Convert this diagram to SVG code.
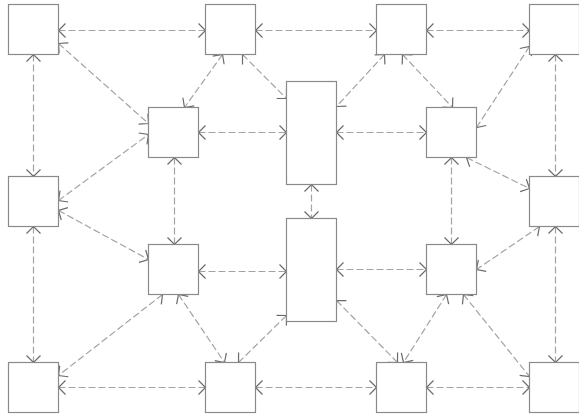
<svg xmlns="http://www.w3.org/2000/svg" width="579" height="416" viewBox="0 0 579 416">
<style>
.node rect{fill:#fff;stroke:#8a8a8a;stroke-width:1.2}
.edges path{fill:none;stroke:#a3a3a3;stroke-width:1.2;stroke-dasharray:7 3;marker-start:url(#arr);marker-end:url(#arr)}
</style>
<defs>
<marker id="arr" markerUnits="userSpaceOnUse" viewBox="-9 -9 10 18" refX="0" refY="0" markerWidth="10" markerHeight="18" orient="auto-start-reverse" overflow="visible">
<path d="M-7,-7 L0,0 L-7,7" fill="none" stroke="#6a6a6a" stroke-width="1.2" stroke-dasharray="none"/>
</marker>
</defs>
<rect width="579" height="416" fill="#fff"/>
<g class="edges" id="connectors">
<path d="M58.5,30.5 L205.5,30.5"/>
<path d="M255.5,30.5 L376.5,30.5"/>
<path d="M426.5,30.5 L529.5,30.5"/>
<path d="M33.5,54.5 L33.5,176.5"/>
<path d="M33.5,226.5 L33.5,362.5"/>
<path d="M555.5,54.5 L555.5,176.5"/>
<path d="M555.5,226.5 L555.5,362.5"/>
<path d="M58.5,387.5 L205.5,387.5"/>
<path d="M255.5,387.5 L376.5,387.5"/>
<path d="M426.5,387.5 L529.5,387.5"/>
<path d="M198.5,132.5 L286.5,132.5"/>
<path d="M336.5,132.5 L426.5,132.5"/>
<path d="M198.5,271.5 L286.5,271.5"/>
<path d="M336.5,269.5 L426.5,269.5"/>
<path d="M311.5,184.5 L311.5,218.5"/>
<path d="M174.5,157.5 L174.5,244.5"/>
<path d="M451.5,157.5 L451.5,244.5"/>
<path d="M58.5,43.5 L148.5,123.5"/>
<path d="M222.5,54.5 L184.5,107.5"/>
<path d="M242.5,54.5 L286.5,98.5"/>
<path d="M384.5,54.5 L336.5,106.5"/>
<path d="M402.5,54.5 L452.5,107.5"/>
<path d="M529.5,46.5 L476.5,127.5"/>
<path d="M466.5,157.5 L529.5,188.5"/>
<path d="M58.5,200.5 L148.5,134.5"/>
<path d="M58.5,210.5 L148.5,259.5"/>
<path d="M162.5,294.5 L58.5,375.5"/>
<path d="M178.5,294.5 L224.5,362.5"/>
<path d="M238.5,362.5 L286.5,315.5"/>
<path d="M336.5,300.5 L397.5,362.5"/>
<path d="M446.5,294.5 L403.5,362.5"/>
<path d="M463.5,294.5 L529.5,376.5"/>
<path d="M539.5,226.5 L476.5,269.5"/>
</g>
<g id="n1" class="node"><rect x="8.5" y="4.5" width="50" height="50"/></g>
<g id="n2" class="node"><rect x="205.5" y="4.5" width="50" height="50"/></g>
<g id="n3" class="node"><rect x="376.5" y="4.5" width="50" height="50"/></g>
<g id="n4" class="node"><rect x="529.5" y="4.5" width="50" height="50"/></g>
<g id="n5" class="node"><rect x="148.5" y="107.5" width="50" height="50"/></g>
<g id="n6" class="node"><rect x="286.5" y="81.5" width="50" height="103"/></g>
<g id="n7" class="node"><rect x="426.5" y="107.5" width="50" height="50"/></g>
<g id="n8" class="node"><rect x="8.5" y="176.5" width="50" height="50"/></g>
<g id="n9" class="node"><rect x="529.5" y="176.5" width="50" height="50"/></g>
<g id="n10" class="node"><rect x="148.5" y="244.5" width="50" height="50"/></g>
<g id="n11" class="node"><rect x="286.5" y="218.5" width="50" height="103"/></g>
<g id="n12" class="node"><rect x="426.5" y="244.5" width="50" height="50"/></g>
<g id="n13" class="node"><rect x="8.5" y="362.5" width="50" height="50"/></g>
<g id="n14" class="node"><rect x="205.5" y="362.5" width="50" height="50"/></g>
<g id="n15" class="node"><rect x="376.5" y="362.5" width="50" height="50"/></g>
<g id="n16" class="node"><rect x="529.5" y="362.5" width="50" height="50"/></g>
</svg>
